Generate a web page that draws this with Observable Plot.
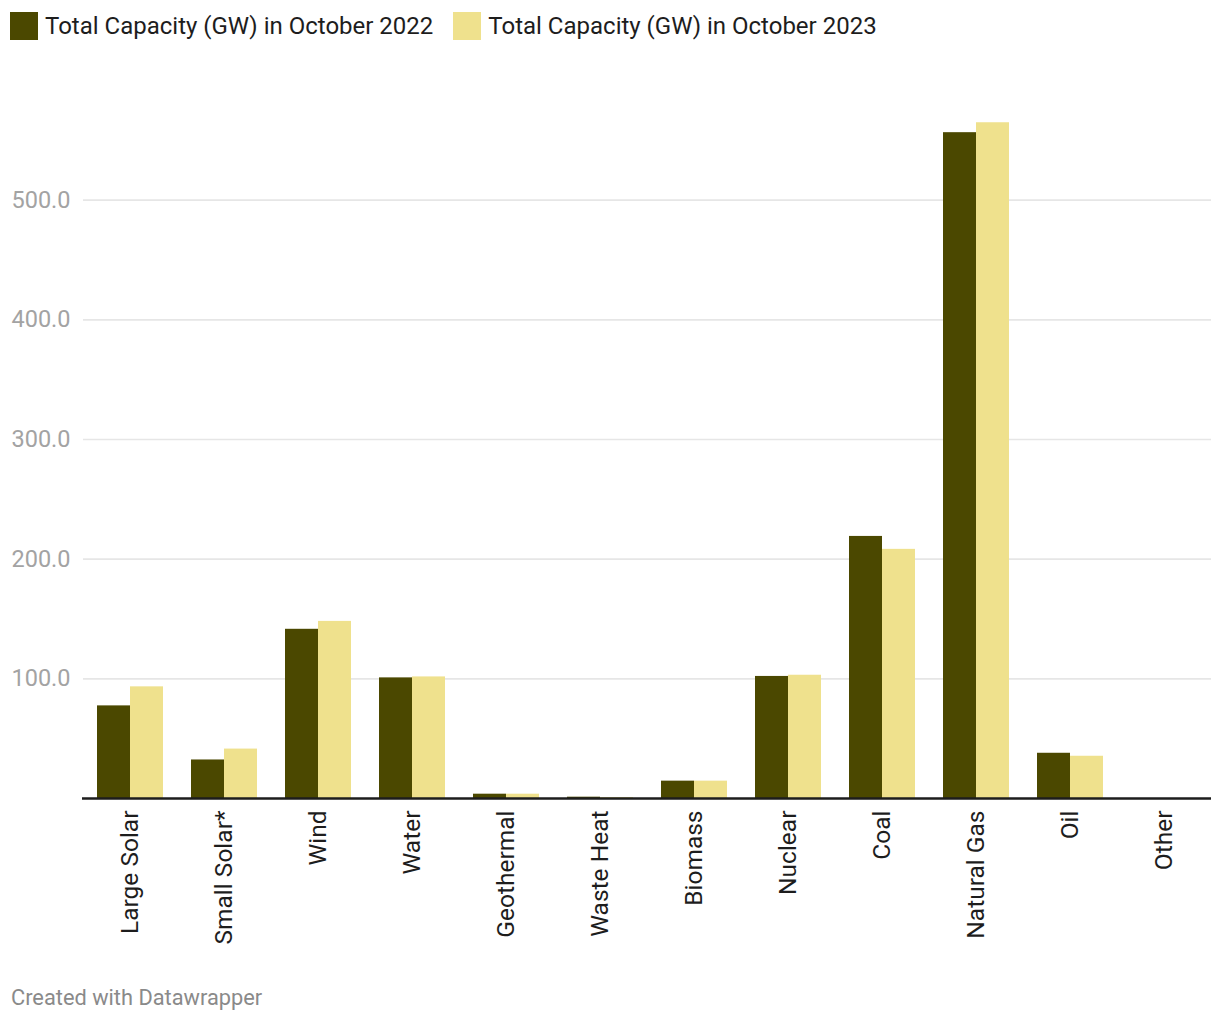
<!DOCTYPE html>
<html>
<head>
<meta charset="utf-8">
<script src="https://cdn.jsdelivr.net/npm/d3@7"></script>
<script src="https://cdn.jsdelivr.net/npm/@observablehq/plot@0.6"></script>
<style>
  html, body { margin: 0; padding: 0; background: #fff; }
  body { width: 1220px; height: 1020px; font-family: Roboto, "Noto Sans", sans-serif; position: relative; overflow: hidden; }
  #legend { height: 60px; box-sizing: border-box; padding: 12px 0 0 10px; display: flex; align-items: flex-start; }
  #legend .item { display: flex; align-items: center; margin-right: 20px; height: 28px; }
  #legend .sw { width: 28px; height: 28px; margin-right: 7px; }
  #legend .lab { font-size: 24px; line-height: 28px; color: #1d1d1d; }
  #chart { height: 898px; }
  #caption { position: absolute; left: 11px; top: 985px; font-size: 21.8px; line-height: 26px; color: #8a8a8a; }
</style>
</head>
<body>
<div id="legend"></div>
<div id="chart"></div>
<div id="caption">Created with Datawrapper</div>
<script>
const categories = ["Large Solar", "Small Solar*", "Wind", "Water", "Geothermal", "Waste Heat", "Biomass", "Nuclear", "Coal", "Natural Gas", "Oil", "Other"];
const seriesNames = ["Total Capacity (GW) in October 2022", "Total Capacity (GW) in October 2023"];
const values2022 = [77.4, 32.2, 141.4, 100.8, 3.6, 1.1, 14.5, 102.0, 219.0, 556.4, 37.8, 0];
const values2023 = [93.3, 41.3, 148.0, 101.6, 3.6, 0.8, 14.5, 103.0, 208.2, 564.7, 35.3, 0];
const seriesColors = ["#4b4800", "#efe18d"];
const yTicks = [100, 200, 300, 400, 500];

const data2022 = categories.map((c, i) => ({category: c, value: values2022[i]}));
const data2023 = categories.map((c, i) => ({category: c, value: values2023[i]}));

// Legend
const legend = document.getElementById("legend");
seriesNames.forEach((name, i) => {
  const item = document.createElement("div");
  item.className = "item";
  const sw = document.createElement("div");
  sw.className = "sw";
  sw.style.background = seriesColors[i];
  const lab = document.createElement("div");
  lab.className = "lab";
  lab.textContent = name;
  item.appendChild(sw);
  item.appendChild(lab);
  legend.appendChild(item);
});

const half = 33;

const chart = Plot.plot({
  width: 1220,
  height: 898,
  marginTop: 20,
  marginBottom: 160,
  marginLeft: 83,
  marginRight: 9,
  style: {fontFamily: "Roboto, 'Noto Sans', sans-serif", background: "#fff"},
  x: {domain: categories, paddingInner: 0.3, paddingOuter: 0.15, label: null},
  y: {domain: [0, 600], label: null},
  marks: [
    Plot.ruleY(yTicks, {stroke: "#e6e6e6", strokeWidth: 1.6}),
    Plot.axisY({ticks: yTicks, tickSize: 0, tickPadding: 13, tickFormat: d3.format(".1f"), fontSize: 23.5, fill: "#a3a3a3", label: null}),
    Plot.barY(data2022, {x: "category", y: "value", fill: seriesColors[0], insetRight: half}),
    Plot.barY(data2023, {x: "category", y: "value", fill: seriesColors[1], insetLeft: half}),
    Plot.ruleY([0], {stroke: "#1d1d1d", strokeWidth: 2.5, insetLeft: -1}),
    Plot.axisX({tickSize: 0, tickPadding: 12, tickRotate: -90, fontSize: 24.5, fill: "#1d1d1d", label: null})
  ]
});
document.getElementById("chart").appendChild(chart);
</script>
</body>
</html>
